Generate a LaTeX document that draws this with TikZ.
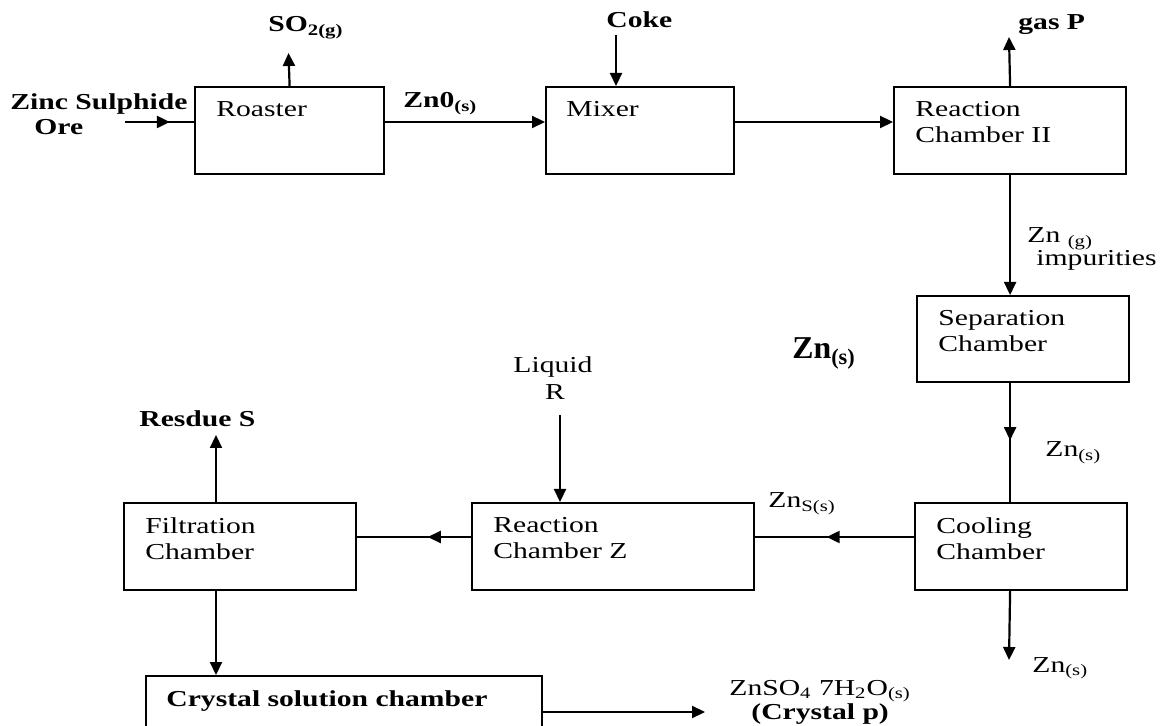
\documentclass[tikz,border=0pt]{standalone}
\usepackage{fontspec}
\setmainfont{Liberation Serif}[FakeStretch=1.3]
\newfontfamily\plainserif{Liberation Serif}
\usepackage{tikz}
\usetikzlibrary{arrows.meta,positioning,calc,decorations.markings}

\newcommand{\diafont}{\fontsize{11.4}{13}\selectfont}

\begin{document}
\begin{tikzpicture}[x=0.5pt, y=-0.5pt, font=\diafont,
  unitbox/.style 2 args={draw, line width=1.1pt, inner sep=0pt, anchor=north west,
                         minimum width=#1*0.5pt, minimum height=#2*0.5pt},
  boxtext/.style={anchor=north west, align=left, inner sep=0pt},
  lbl/.style={anchor=base west, inner sep=0pt, font=\fontsize{11.4}{13}\bfseries},
  thin lbl/.style={anchor=base west, inner sep=0pt},
  flow/.style={line width=1.1pt, -{Triangle[length=6.5pt,width=6pt]}},
  midflow/.style={line width=1.1pt, postaction={decorate},
                  decoration={markings, mark=at position #1 with
                  {\arrow{Triangle[length=6.5pt,width=6pt]}}}}]
  \useasboundingbox (0,0) rectangle (1161,726);

  % Top row
  \node[unitbox={189}{87}] (roast) at (194,86) {};
  \node[boxtext] at ([shift={(22,15)}]roast.north west) {Roaster};
  \node[unitbox={188}{87}] (mixer) at (545,86) {};
  \node[boxtext] at ([shift={(21,15)}]mixer.north west) {Mixer};
  \node[unitbox={232}{87}] (rc2) at (893,86) {};
  \node[boxtext] at ([shift={(22,15)}]rc2.north west) {Reaction\\Chamber II};

  % Right column
  \node[unitbox={212}{86}] (sep) at (916,295) {};
  \node[boxtext] at ([shift={(22,15)}]sep.north west) {Separation\\Chamber};
  \node[unitbox={212}{87}] (cool) at (914,502) {};
  \node[boxtext] at ([shift={(22,15)}]cool.north west) {Cooling\\Chamber};

  % Bottom rows
  \node[unitbox={282}{87}] (rcz) at (471,502) {};
  \node[boxtext] at ([shift={(22,15)}]rcz.north west) {Reaction\\Chamber Z};
  \node[unitbox={232}{87}] (filt) at (123,502) {};
  \node[boxtext] at ([shift={(22,15)}]filt.north west) {Filtration\\Chamber};
  \node[unitbox={396}{90}] (cryst) at (145,675) {};
  \node[boxtext, font=\fontsize{11.4}{13}\bfseries] at ([shift={(21,15)}]cryst.north west)
    {Crystal solution chamber};

  % Stream labels
  \node[lbl] (zinc) at (10,110) {Zinc Sulphide};
  \node[lbl] (ore) at (34,135) {Ore};
  \node[lbl] (so2) at (268,32) {SO\textsubscript{2(g)}};
  \node[lbl] (zno) at (403,108) {Zn0\textsubscript{(s)}};
  \node[lbl] (coke) at (606,28) {Coke};
  \node[lbl] (gasP) at (1018,30) {gas P};
  \node[thin lbl] (zng) at (1027,243) {Zn \textsubscript{(g)}};
  \node[thin lbl] (impur) at (1036,266) {impurities};
  \node[anchor=base west, inner sep=0pt, font=\plainserif\fontsize{15.9}{18}\bfseries]
    (bigzn) at (792,359) {Zn\textsubscript{(s)}};
  \node[thin lbl] (liquid) at (513,373) {Liquid};
  \node[thin lbl, anchor=base] (liqR) at (555,400) {R};
  \node[thin lbl] (znsS) at (768,508) {Zn\textsubscript{S(s)}};
  \node[thin lbl] (zns1) at (1045,457) {Zn\textsubscript{(s)}};
  \node[thin lbl] (zns2) at (1032,672) {Zn\textsubscript{(s)}};
  \node[lbl] (resdue) at (139,427) {Resdue S};
  \node[thin lbl] (znso4) at (729,695) {ZnSO\textsubscript{4} 7H\textsubscript{2}O\textsubscript{(s)}};
  \node[lbl] (crystp) at (751,719) {(Crystal p)};

  % Free ends
  \coordinate (orein) at (125,122);
  \coordinate (so2tip) at (288.5,53);
  \coordinate (coketop) at (616,35);
  \coordinate (gastip) at (1009,37);
  \coordinate (liqtop) at (560,415);
  \coordinate (restip) at (216,435);
  \coordinate (zntip) at (1009,660);
  \coordinate (prodtip) at (705,712);

  % Arrows
  \draw[midflow=0.65] (orein) -- (orein -| roast.west);
  \draw[flow] (roast.north) -- (so2tip);
  \draw[flow] ([yshift=-18pt]roast.north east) -- ([yshift=-18pt]mixer.north west);
  \draw[flow] (coketop) -- (coketop |- mixer.north);
  \draw[flow] ([yshift=-18pt]mixer.north east) -- ([yshift=-18pt]rc2.north west);
  \draw[flow] (rc2.north) -- (gastip);
  \draw[flow] (rc2.south) -- (rc2.south |- sep.north);
  \draw[midflow=0.48] (rc2.south |- sep.south) -- (rc2.south |- cool.north);
  \draw[flow] (rc2.south |- cool.south) -- (zntip);
  \draw[midflow=0.55] ([yshift=-17.5pt]cool.north west) -- ([yshift=-17.5pt]rcz.north east);
  \draw[flow] (liqtop) -- (liqtop |- rcz.north);
  \draw[midflow=0.38] ([yshift=-17.5pt]rcz.north west) -- ([yshift=-17.5pt]filt.north east);
  \draw[flow] (restip |- filt.north) -- (restip);
  \draw[flow] (restip |- filt.south) -- (restip |- cryst.north);
  \draw[flow] ([yshift=-18.5pt]cryst.north east) -- (prodtip);
\end{tikzpicture}
\end{document}
